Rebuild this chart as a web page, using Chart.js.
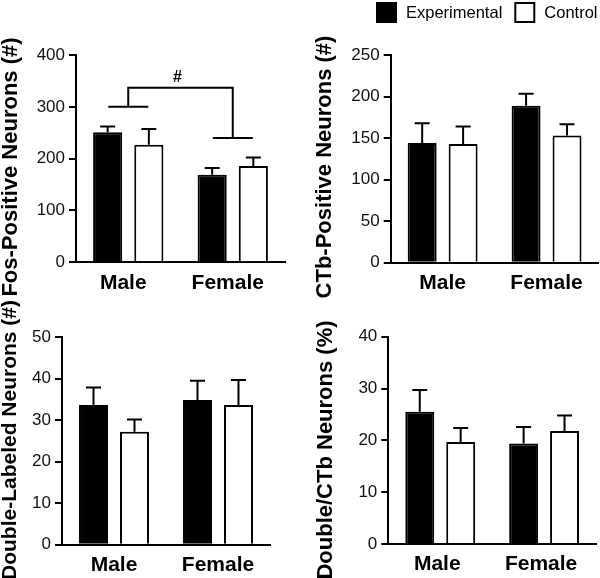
<!DOCTYPE html>
<html><head><meta charset="utf-8">
<script src="https://cdn.jsdelivr.net/npm/chart.js@4.4.1/dist/chart.umd.min.js"></script>
<style>
html,body{margin:0;padding:0;background:#fff;}
body{width:600px;height:578px;position:relative;overflow:hidden;}
canvas{position:absolute;}
</style></head><body>
<canvas id="c1" width="300" height="300" style="left:0;top:0"></canvas>
<canvas id="c2" width="300" height="300" style="left:300px;top:0"></canvas>
<canvas id="c3" width="300" height="288" style="left:0;top:290px"></canvas>
<canvas id="c4" width="300" height="288" style="left:300px;top:290px"></canvas>
<script>
// ---------- DATA ----------
const categories = ['Male', 'Female'];
const seriesNames = ['Experimental', 'Control'];

const fosExp = [251, 169];   const fosExpSem = [11, 13];
const fosCtl = [227, 186];   const fosCtlSem = [30, 16];
const fosTicks = [0, 100, 200, 300, 400];

const ctbExp = [144, 189];   const ctbExpSem = [24, 14.5];
const ctbCtl = [143, 153];   const ctbCtlSem = [21, 13.5];
const ctbTicks = [0, 50, 100, 150, 200, 250];

const dblExp = [33.7, 34.9]; const dblExpSem = [4.2, 4.6];
const dblCtl = [27.2, 33.7]; const dblCtlSem = [3.0, 6.0];
const dblTicks = [0, 10, 20, 30, 40, 50];

const pctExp = [25.5, 19.4]; const pctExpSem = [4.2, 3.2];
const pctCtl = [19.7, 21.8]; const pctCtlSem = [2.7, 3.0];
const pctTicks = [0, 10, 20, 30, 40];

// significance bracket (panel 1): group levels, top of bracket, label
const bracketLevels = [300, 240];
const bracketTop = 337;
const bracketLabel = '#';

const yTitles = ['Fos-Positive Neurons (#)', 'CTb-Positive Neurons (#)',
                 'Double-Labeled Neurons (#)', 'Double/CTb Neurons (%)'];

// ---------- STYLE ----------
Chart.defaults.font.family = "'Liberation Sans', Arial, Helvetica, sans-serif";
Chart.defaults.color = '#000';
const FILLS = ['#000000', '#ffffff'];

const errorBars = {
  id: 'errorBars',
  afterDatasetsDraw(chart) {
    const ctx = chart.ctx, ys = chart.scales.y;
    ctx.save();
    ctx.strokeStyle = '#000'; ctx.lineWidth = 2; ctx.lineCap = 'butt';
    chart.data.datasets.forEach((ds, i) => {
      const meta = chart.getDatasetMeta(i);
      meta.data.forEach((bar, j) => {
        const yt = ys.getPixelForValue(ds.data[j] + ds.sem[j]);
        ctx.beginPath();
        ctx.moveTo(bar.x, bar.y); ctx.lineTo(bar.x, yt);
        ctx.moveTo(bar.x - 7.5, yt); ctx.lineTo(bar.x + 7.5, yt);
        ctx.stroke();
      });
    });
    ctx.restore();
  }
};

const yTitle = {
  id: 'yTitle',
  afterDraw(chart, args, opts) {
    const ctx = chart.ctx;
    ctx.save();
    ctx.translate(opts.x, opts.y);
    ctx.rotate(-Math.PI / 2);
    ctx.font = "bold " + (opts.size || 22) + "px 'Liberation Sans', Arial, sans-serif";
    ctx.fillStyle = '#000';
    ctx.textAlign = 'center';
    ctx.textBaseline = 'middle';
    ctx.fillText(opts.text, 0, 0);
    ctx.restore();
  }
};

const bracket = {
  id: 'bracket',
  afterDatasetsDraw(chart, args, opts) {
    if (!opts.enabled) return;
    const ctx = chart.ctx, xs = chart.scales.x, ys = chart.scales.y;
    const x0 = xs.getPixelForValue(0), x1 = xs.getPixelForValue(1);
    const yA = ys.getPixelForValue(bracketLevels[0]);
    const yB = ys.getPixelForValue(bracketLevels[1]);
    const yT = ys.getPixelForValue(bracketTop);
    const hw = 20;
    ctx.save();
    ctx.strokeStyle = '#000'; ctx.lineWidth = 2;
    ctx.beginPath();
    ctx.moveTo(x0 - hw, yA); ctx.lineTo(x0 + hw, yA);
    ctx.moveTo(x1 - hw, yB); ctx.lineTo(x1 + hw, yB);
    ctx.moveTo(x0, yA); ctx.lineTo(x0, yT); ctx.lineTo(x1, yT); ctx.lineTo(x1, yB);
    ctx.stroke();
    ctx.font = "bold 16px 'Liberation Sans', Arial, sans-serif";
    ctx.fillStyle = '#000';
    ctx.textAlign = 'center';
    ctx.textBaseline = 'bottom';
    ctx.fillText(bracketLabel, (x0 + x1) / 2 - 3, yT - 2);
    ctx.restore();
  }
};

const boxLegend = {
  id: 'boxLegend',
  afterDraw(chart, args, opts) {
    if (!opts.enabled) return;
    const ctx = chart.ctx;
    ctx.save();
    ctx.font = "16.5px 'Liberation Sans', Arial, sans-serif";
    ctx.textBaseline = 'middle';
    ctx.textAlign = 'left';
    let x = opts.x;
    const y = opts.y, s = 21;
    chart.data.datasets.forEach((ds) => {
      ctx.fillStyle = ds.backgroundColor;
      ctx.fillRect(x, y, s, s);
      ctx.strokeStyle = '#000'; ctx.lineWidth = 2;
      ctx.strokeRect(x + 1, y + 1, s - 2, s - 2);
      x += s + 9;
      ctx.fillStyle = '#000';
      ctx.fillText(ds.label, x, y + s / 2 + 1);
      x += ctx.measureText(ds.label).width + 12;
    });
    ctx.restore();
  }
};

function makePanel(id, exp, expSem, ctl, ctlSem, ticks, area, title, extra) {
  const cv = document.getElementById(id);
  const W = cv.width, H = cv.height;
  return new Chart(cv, {
    type: 'bar',
    data: {
      labels: categories,
      datasets: [
        { label: seriesNames[0], data: exp, sem: expSem, backgroundColor: FILLS[0],
          borderColor: '#000', borderWidth: 2 },
        { label: seriesNames[1], data: ctl, sem: ctlSem, backgroundColor: FILLS[1],
          borderColor: '#000', borderWidth: 2 }
      ]
    },
    options: {
      responsive: false,
      animation: false,
      events: [],
      categoryPercentage: 0.788,
      barPercentage: 0.707,
      layout: { padding: { top: area.top, right: W - area.right, left: 0, bottom: 0 } },
      plugins: {
        legend: { display: false },
        tooltip: { enabled: false },
        yTitle: { text: title, x: area.tx, y: area.ty, size: area.ts },
        bracket: { enabled: !!extra.bracket },
        boxLegend: { enabled: !!extra.legend, x: 76, y: 2 }
      },
      scales: {
        x: {
          grid: { display: false, drawTicks: false },
          border: { display: true, color: '#000', width: 2 },
          ticks: { font: { size: 21, weight: 'bold' }, color: '#000', padding: 8,
                   labelOffset: area.lo || 0 },
          afterFit: (s) => { s.height = H - area.bottom; }
        },
        y: {
          min: ticks[0], max: ticks[ticks.length - 1],
          ticks: { stepSize: ticks[1] - ticks[0], font: { size: 17 }, color: '#111', padding: 4 },
          grid: { drawOnChartArea: false, drawTicks: true, tickLength: 7, color: '#000', lineWidth: 2 },
          border: { display: true, color: '#000', width: 2 },
          afterFit: (s) => { s.width = area.left; }
        }
      }
    },
    plugins: [errorBars, yTitle, bracket, boxLegend]
  });
}

makePanel('c1', fosExp, fosExpSem, fosCtl, fosCtlSem, fosTicks,
  { left: 76, right: 285, top: 55, bottom: 262.3, tx: 11, ty: 167, lo: -5 }, yTitles[0], { bracket: true });
makePanel('c2', ctbExp, ctbExpSem, ctbCtl, ctbCtlSem, ctbTicks,
  { left: 90.7, right: 298.5, top: 55, bottom: 262.7, tx: 25, ty: 167 }, yTitles[1], { legend: true });
makePanel('c3', dblExp, dblExpSem, dblCtl, dblCtlSem, dblTicks,
  { left: 62, right: 270, top: 47.3, bottom: 254.7, tx: 10, ty: 150, ts: 21 }, yTitles[2], {});
makePanel('c4', pctExp, pctExpSem, pctCtl, pctCtlSem, pctTicks,
  { left: 88.3, right: 296, top: 46.7, bottom: 254, tx: 26, ty: 160, lo: -3 }, yTitles[3], {});
</script>
</body></html>
